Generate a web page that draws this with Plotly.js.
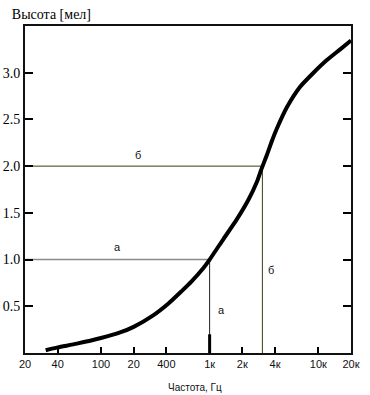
<!DOCTYPE html>
<html>
<head>
<meta charset="utf-8">
<script src="https://cdn.plot.ly/plotly-3.0.1.min.js"></script>
<style>html,body{margin:0;padding:0;background:#fff;}#chart{width:370px;height:395px;}</style>
</head>
<body>
<div id="chart"></div>
<script>
// Pitch curve (thousands of mel) vs frequency (Hz)
var freq = [31, 40, 60, 100, 150, 200, 300, 418, 550, 686, 877, 1000, 1340, 1778, 2275, 2720, 2980, 3364, 3742, 4150, 5140, 6810, 9040, 12000, 15900, 20000];
var mel  = [0.03, 0.06, 0.10, 0.16, 0.22, 0.28, 0.40, 0.53, 0.66, 0.77, 0.91, 1.0, 1.22, 1.43, 1.64, 1.83, 1.96, 2.12, 2.27, 2.40, 2.63, 2.85, 3.00, 3.135, 3.25, 3.345];

// reference lines "а" and "б"
var refA_freq = 1000, refA_mel = 1.0;
var refB_freq = 3060, refB_mel = 2.0;
var xMin = 20, xMax = 20000;

// tick labels
var xTickVals = [20, 40, 100, 200, 400, 1000, 2000, 4000, 10000, 20000];
var xTickText = ['20', '40', '100', '20', '400', '1к', '2к', '4к', '10к', '20к'];
var yTickVals = [0.5, 1.0, 1.5, 2.0, 2.5, 3.0];
var yTickText = ['0.5', '1.0', '1.5', '2.0', '2.5', '3.0'];

// label positions
var labels = [
  {text: 'а', x: 143, y: 1.13},
  {text: 'б', x: 220, y: 2.12},
  {text: 'а', x: 1276, y: 0.46},
  {text: 'б', x: 3680, y: 0.89}
];

var SERIF = '"Liberation Serif", "Times New Roman", serif';
var SANS = '"Liberation Sans", Arial, sans-serif';

var traces = [
  {x: [xMin, refA_freq], y: [refA_mel, refA_mel], mode: 'lines', line: {color: '#8a8a8a', width: 1.6}, hoverinfo: 'skip'},
  {x: [refA_freq, refA_freq], y: [0, refA_mel], mode: 'lines', line: {color: '#222', width: 1}, hoverinfo: 'skip'},
  {x: [refA_freq, refA_freq], y: [0, 0.2], mode: 'lines', line: {color: '#000', width: 3}, hoverinfo: 'skip'},
  {x: [xMin, refB_freq], y: [refB_mel, refB_mel], mode: 'lines', line: {color: '#3c3c14', width: 1}, hoverinfo: 'skip'},
  {x: [refB_freq, refB_freq], y: [0, refB_mel], mode: 'lines', line: {color: '#3c3c14', width: 1}, hoverinfo: 'skip'},
  {x: freq, y: mel, mode: 'lines', line: {color: '#000', width: 4, shape: 'spline', smoothing: 0.6}, hoverinfo: 'skip'}
];

var annotations = labels.map(function (l) {
  return {x: Math.log10(l.x), y: l.y, xref: 'x', yref: 'y', text: l.text, showarrow: false,
          font: {family: SANS, size: 11, color: '#111'}};
});
annotations.push({text: 'Частота, Гц', xref: 'paper', yref: 'paper', x: 0.52, y: -0.107,
  xanchor: 'center', yanchor: 'middle', showarrow: false, font: {family: SANS, size: 10, color: '#111'}});

var layout = {
  width: 370, height: 395,
  margin: {l: 25, r: 19, t: 26, b: 42},
  paper_bgcolor: '#fff', plot_bgcolor: '#fff',
  showlegend: false,
  title: {text: 'Высота [мел]', font: {family: SERIF, size: 14, color: '#000'},
          xref: 'container', x: 0.032, xanchor: 'left', yref: 'container', y: 0.965, yanchor: 'middle'},
  xaxis: {
    type: 'log', range: [Math.log10(xMin), Math.log10(xMax)],
    tickvals: xTickVals, ticktext: xTickText,
    ticks: 'inside', ticklen: 6, tickwidth: 2, tickcolor: '#000',
    showline: true, linecolor: '#111', linewidth: 2, mirror: true,
    showgrid: false, zeroline: false,
    tickfont: {family: SANS, size: 11, color: '#111'}
  },
  yaxis: {
    range: [0, 3.5],
    tickvals: yTickVals, ticktext: yTickText,
    ticks: 'inside', ticklen: 8, tickwidth: 2, tickcolor: '#000',
    showline: true, linecolor: '#111', linewidth: 2, mirror: 'ticks',
    showgrid: false, zeroline: false,
    tickfont: {family: SERIF, size: 14, color: '#000'}
  },
  annotations: annotations
};

Plotly.newPlot('chart', traces, layout, {displayModeBar: false, staticPlot: true});
</script>
</body>
</html>
